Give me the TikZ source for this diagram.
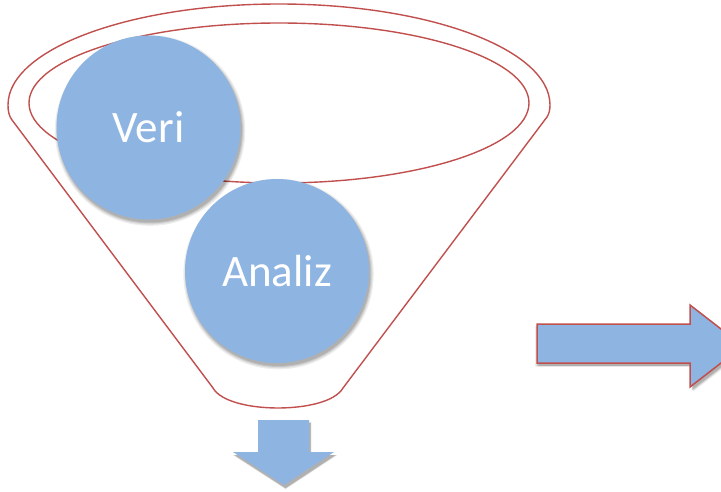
\documentclass[tikz,border=0pt]{standalone}
\usepackage{fontspec}
\setmainfont{Carlito}
\usetikzlibrary{shadows}
\definecolor{fblue}{HTML}{8EB4E2}
\definecolor{fred}{HTML}{C0504D}
\tikzset{
  softshadow/.style={
    general shadow={fill=black, opacity=0.07, shadow xshift=1.5pt, shadow yshift=-3pt, shadow scale=1.035},
    general shadow={fill=black, opacity=0.08, shadow xshift=1.5pt, shadow yshift=-3pt, shadow scale=1.022},
    general shadow={fill=black, opacity=0.10, shadow xshift=1.5pt, shadow yshift=-3pt, shadow scale=1.01},
    general shadow={fill=black, opacity=0.10, shadow xshift=1.5pt, shadow yshift=-3pt, shadow scale=1.0}},
  ball/.style={circle, fill=fblue, minimum size=184pt, inner sep=0pt, text=white,
    font=\fontsize{45}{54}\selectfont, softshadow},
  funnelline/.style={draw=fred, line width=1.4pt, line join=round},
  bigarrow/.style={fill=fblue, softshadow}
}
\begin{document}
\begin{tikzpicture}[x=1pt,y=1pt]
\clip (0,0) rectangle (721,491);
\useasboundingbox (0,0) rectangle (721,491);
% outer funnel
\draw[funnelline] (8,386) arc[start angle=180, end angle=0, x radius=271, y radius=101]
  .. controls (550,381) and (549,377) .. (547,374)
  -- (343,103)
  .. controls (335,89) and (305,83) .. (278,83)
  .. controls (251,83) and (221,89) .. (213,103)
  -- (12,371)
  .. controls (9,375) and (8,380) .. (8,386) -- cycle;
% inner ellipse
\draw[funnelline] (279,388) ellipse[x radius=250, y radius=80];
% circles
\node[ball] (veri) at (148.5,363.5) {Veri};
\node[ball] (analiz) at (277,220) {Analiz};
% down arrow
\path[bigarrow] (258,71) coordinate (d1) -- (309,71) -- (309,39) -- (334,39) -- (284,6) coordinate (dtip) -- (233,39) -- (258,39) -- cycle;
% right arrow
\path[bigarrow, draw=fred, line width=1.5pt, line join=miter] (537,167) coordinate (r1) -- (690,167) -- (690,186) -- (743,145) coordinate (rtip) -- (690,104) -- (690,128) -- (537,128) -- cycle;
\end{tikzpicture}
\end{document}
